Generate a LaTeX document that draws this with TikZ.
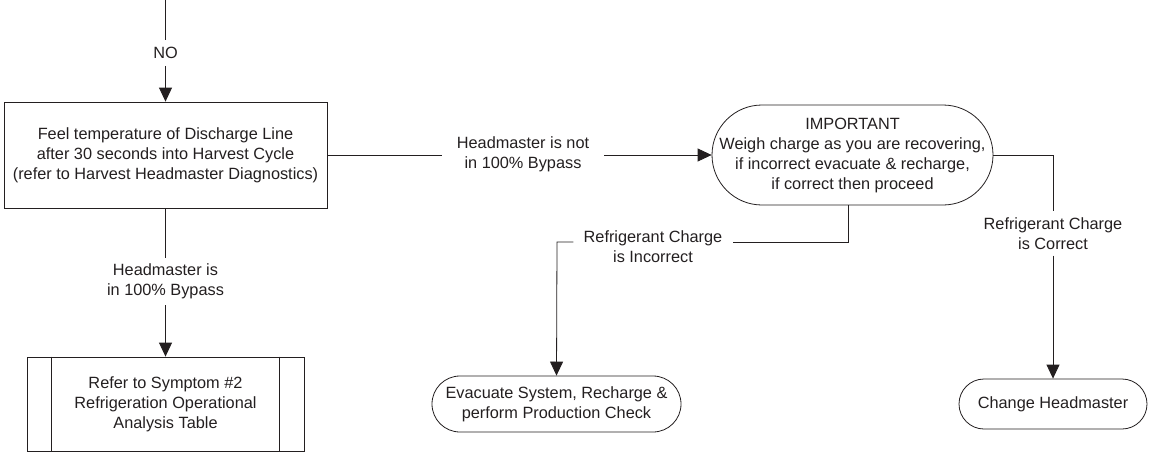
\documentclass[tikz,border=0pt]{standalone}
\usepackage{fontspec}
\setmainfont{Liberation Sans}
\usetikzlibrary{arrows.meta}
\definecolor{ink}{HTML}{231F20}
\begin{document}
\begin{tikzpicture}[x=1pt,y=-1pt,
  every node/.style={font=\fontsize{16.3}{20}\selectfont, text=ink},
  conn/.style={draw=ink, line width=0.8pt},
  arr/.style={conn, -{Triangle[length=14pt,width=13pt]}},
  procbox/.style={draw=ink, line width=0.8pt, align=center, inner sep=0pt},
  stadium/.style={draw=ink, line width=0.8pt, align=center, inner sep=0pt},
  lbl/.style={align=center, inner xsep=12pt, inner ysep=6pt}
]
\useasboundingbox (0,0) rectangle (1150,455);

\coordinate (start) at (165.5,0);
\node[procbox, minimum width=323pt, minimum height=106pt] (b1) at (165.5,155)
  {Feel temperature of Discharge Line\\after 30 seconds into Harvest Cycle\\(refer to Harvest Headmaster Diagnostics)};
\node[procbox, minimum width=277pt, minimum height=94pt] (b2) at (165.5,404)
  {Refer to Symptom \#2\\Refrigeration Operational\\Analysis Table};
\draw[conn] ([xshift=25pt]b2.north west) -- ([xshift=25pt]b2.south west);
\draw[conn] ([xshift=-25pt]b2.north east) -- ([xshift=-25pt]b2.south east);

\node[stadium, minimum width=281pt, minimum height=100pt, rounded corners=50pt] (imp) at (852.5,155)
  {IMPORTANT\\Weigh charge as you are recovering,\\if incorrect evacuate \& recharge,\\if correct then proceed};
\node[stadium, minimum width=249pt, minimum height=56pt, rounded corners=28pt] (evac) at (556.5,404)
  {Evacuate System, Recharge \&\\perform Production Check};
\node[stadium, minimum width=188pt, minimum height=50pt, rounded corners=25pt] (chg) at (1053,404)
  {Change Headmaster};

\node[lbl, inner ysep=7pt] (no) at (165.5,53) {NO};
\node[lbl] (by) at (165.5,281.5) {Headmaster is\\in 100\% Bypass};
\node[lbl, inner xsep=15pt] (notby) at (523,154.5) {Headmaster is not\\in 100\% Bypass};
\node[lbl, inner xsep=10pt] (inc) at (653,247) {Refrigerant Charge\\is Incorrect};
\node[lbl] (cor) at (1053,233.5) {Refrigerant Charge\\is Correct};

\coordinate (c1) at (848,242);
\coordinate (c2) at (557,242);

\draw[conn] (start) -- (no.north);
\draw[arr] (no.south) -- (b1.north);
\draw[conn] (b1.south) -- (by.north);
\draw[arr] (by.south) -- (b2.north);
\draw[conn] (b1.east) -- (notby.west |- b1.east);
\draw[arr] (notby.east |- b1.east) -- (imp.west);
\draw[conn] (c1 |- imp.south) -- (c1) -- (inc.east |- c1);
\draw[arr] (inc.west |- c1) -- (c2) -- (evac.north);
\draw[conn] (imp.east) -| (cor.north);
\draw[arr] (cor.south) -- (chg.north);
\end{tikzpicture}
\end{document}
